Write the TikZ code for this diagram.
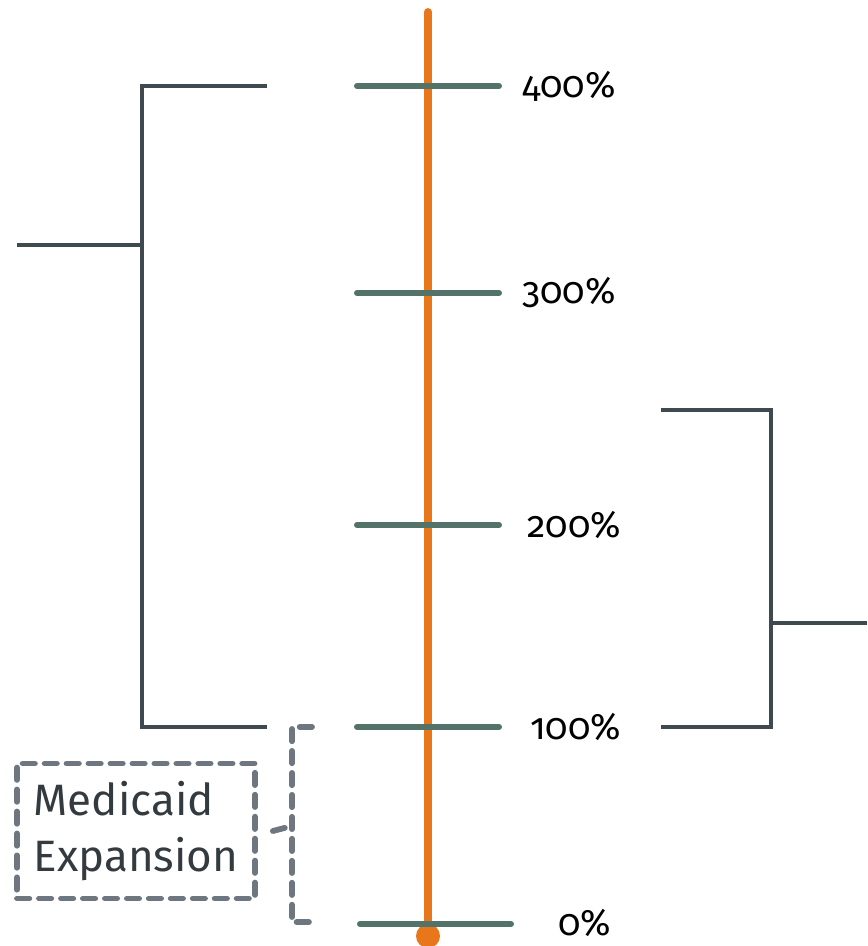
\documentclass[tikz,border=0pt]{standalone}
\usepackage{fontspec}
\setmainfont{Fira Sans}[Numbers=OldStyle]
\usetikzlibrary{positioning}

\definecolor{scaleorange}{HTML}{E8771C}
\definecolor{levelgreen}{HTML}{53736A}
\definecolor{bracketgrey}{HTML}{3F4A50}
\definecolor{dashgrey}{HTML}{6E7780}
\definecolor{textgrey}{HTML}{333B40}

\begin{document}
\begin{tikzpicture}[x=0.02cm, y=-0.02cm, line cap=round]

  \tikzset{axis/.style={draw=scaleorange, line width=4.5pt},
           lvl/.style={draw=levelgreen, line width=3.4pt},
           brk/.style={draw=bracketgrey, line width=2.3pt, line cap=butt},
           dsh/.style={draw=dashgrey, line width=3.3pt,
                       dash pattern=on 7pt off 5.5pt},
           pct/.style={anchor=west, inner sep=0pt, font=\fontsize{21}{24}\selectfont}}

  \useasboundingbox (0,0) rectangle (867,946);

  % poverty-line scale
  \coordinate (top) at (428,12);
  \node[circle, fill=scaleorange, inner sep=0pt, minimum size=0.48cm] (zero) at (428,936) {};
  \draw[axis] (top) -- (zero.center);

  \foreach \y/\p/\lx in {86/400/522, 293/300/522, 525/200/527, 727/100/530} {
    \coordinate (l\p) at (357,\y);
    \coordinate (r\p) at (499,\y);
    \draw[lvl] (l\p) -- (r\p);
    \node[pct] (p\p) at (\lx,\y) {\p\%};
  }
  \coordinate (l0) at (360,924);
  \coordinate (r0) at (511,924);
  \draw[lvl] (l0) -- (r0);
  \node[pct] (p0) at (558,923) {0\%};

  % left bracket
  \coordinate (lt) at (267,86);
  \coordinate (lb) at (267,727);
  \coordinate (lm) at (142,245);
  \coordinate (ls) at (17,245);
  \draw[brk] (lt) -| (lm) |- (lb);
  \draw[brk] (ls) -- (lm);

  % right bracket
  \coordinate (rt) at (661,410);
  \coordinate (rb) at (661,727);
  \coordinate (rm) at (771,623);
  \coordinate (rs) at (867,623);
  \draw[brk] (rt) -| (rm) |- (rb);
  \draw[brk] (rm) -- (rs);

  % medicaid expansion
  \node[dsh, minimum width=4.76cm, minimum height=2.7cm, align=left,
        text=textgrey, font=\fontsize{25}{32}\selectfont] (medexp) at (136,831) {Medicaid\\Expansion};
  \coordinate (dt) at (312,727);
  \coordinate (db) at (316,922);
  \coordinate (dm) at (292,826);
  \draw[dsh] (dt) -| (dm) |- (db);
  \draw[dsh] ([xshift=0.3cm]medexp.east) -- (dm);

\end{tikzpicture}
\end{document}
